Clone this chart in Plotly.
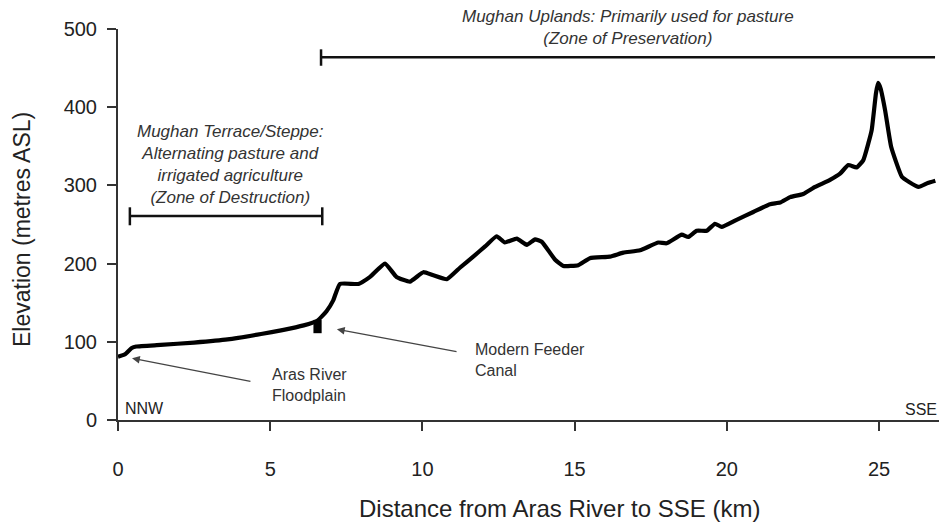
import plotly.graph_objects as go

# Elevation profile (distance km, elevation m ASL)
distance_km = [0, 0.23, 0.45, 0.6, 1.4, 2.5, 3.6, 4.7, 5.4, 6.1, 6.55, 6.85, 7.07, 7.29, 7.9,
               8.28, 8.77, 9.15, 9.59, 10.03, 10.36, 10.8, 11.24, 11.67, 12.06, 12.44, 12.71,
               13.1, 13.43, 13.7, 13.92, 14.36, 14.63, 15.12, 15.5, 16.16, 16.6, 17.15, 17.75,
               18.02, 18.52, 18.73, 19.01, 19.34, 19.61, 19.83, 20.32, 20.87, 21.42, 21.75,
               22.08, 22.51, 22.9, 23.39, 23.72, 23.99, 24.26, 24.48, 24.65, 24.76, 24.9,
               24.97, 25.05, 25.2, 25.4, 25.75, 26.0, 26.3, 26.6, 26.85]
elevation_m = [81, 84, 92, 94, 96, 99, 103, 110, 115, 121, 127, 139, 153, 174, 174,
               183, 200, 183, 177, 189, 185, 180, 195, 209, 222, 235, 227,
               232, 224, 231, 228, 205, 197, 198, 207, 209, 214, 217, 227,
               226, 237, 234, 242, 242, 251, 247, 256, 266, 276, 278,
               285, 289, 298, 307, 315, 326, 323, 332, 354, 371, 418,
               431, 424, 396, 349, 311, 304, 298, 303, 306]

x_ticks = [0, 5, 10, 15, 20, 25]
y_ticks = [0, 100, 200, 300, 400, 500]

# Zone brackets: (start km, end km, elevation level)
uplands_zone = (6.67, 26.84, 464)
terrace_zone = (0.39, 6.71, 261)
# Modern feeder canal cut (km range, elevation range)
canal_km = (6.42, 6.69)
canal_m = (111, 128)

FONT = "Liberation Sans, Arial, sans-serif"
INK = "#222222"

fig = go.Figure()
fig.add_trace(go.Scatter(x=distance_km, y=elevation_m, mode="lines",
                         line=dict(color="black", width=4.2, shape="spline", smoothing=0.4),
                         hoverinfo="skip", showlegend=False))

shapes = []
bw = 2.5
# Uplands bracket (left tick only)
u0, u1, uy = uplands_zone
shapes.append(dict(type="line", xref="x", yref="y", x0=u0, x1=u1, y0=uy, y1=uy,
                   line=dict(color="#111", width=bw)))
shapes.append(dict(type="line", xref="x", yref="y", x0=u0, x1=u0, y0=uy - 11, y1=uy + 10,
                   line=dict(color="#111", width=bw)))
# Terrace bracket
t0, t1, ty = terrace_zone
shapes.append(dict(type="line", xref="x", yref="y", x0=t0, x1=t1, y0=ty, y1=ty,
                   line=dict(color="#111", width=bw)))
for xv in (t0, t1):
    shapes.append(dict(type="line", xref="x", yref="y", x0=xv, x1=xv, y0=ty - 12, y1=ty + 11,
                       line=dict(color="#111", width=bw)))
# Canal block
shapes.append(dict(type="rect", xref="x", yref="y", x0=canal_km[0], x1=canal_km[1],
                   y0=canal_m[0], y1=canal_m[1], fillcolor="black", line=dict(width=0)))

annotations = [
    dict(x=16.75, y=1.005, xref="x", yref="paper", showarrow=False,
         text="<i>Mughan Uplands: Primarily used for pasture<br>(Zone of Preservation)</i>",
         font=dict(family=FONT, size=17, color="#333333"), align="center",
         xanchor="center", yanchor="middle"),
    dict(x=3.68, y=327, xref="x", yref="y", showarrow=False,
         text="<i>Mughan Terrace/Steppe:<br>Alternating pasture and<br>irrigated agriculture<br>(Zone of Destruction)</i>",
         font=dict(family=FONT, size=17, color="#333333"), align="center",
         xanchor="center", yanchor="middle"),
    dict(x=4.99, y=45, xref="x", yref="y", showarrow=False,
         text="Aras River<br>Floodplain", font=dict(family=FONT, size=16, color="#333333"),
         align="left", xanchor="left", yanchor="middle"),
    dict(x=11.66, y=77, xref="x", yref="y", showarrow=False,
         text="Modern Feeder<br>Canal", font=dict(family=FONT, size=16, color="#333333"),
         align="left", xanchor="left", yanchor="middle"),
    dict(x=0.16, y=15, xref="x", yref="y", showarrow=False, text="NNW",
         font=dict(family=FONT, size=16, color=INK), xanchor="left", yanchor="middle"),
    dict(x=1.0, y=13, xref="paper", yref="y", showarrow=False, text="SSE",
         font=dict(family=FONT, size=16, color=INK), xanchor="right", yanchor="middle"),
    # arrows
    dict(x=0.46, y=79, ax=4.40, ay=49, xref="x", yref="y", axref="x", ayref="y",
         text="", showarrow=True, arrowhead=2, arrowsize=1.3, arrowwidth=1.2,
         arrowcolor="#444444"),
    dict(x=7.19, y=116, ax=11.17, ay=87, xref="x", yref="y", axref="x", ayref="y",
         text="", showarrow=True, arrowhead=2, arrowsize=1.3, arrowwidth=1.2,
         arrowcolor="#444444"),
    # axis titles (paper coords relative to the plot area)
    dict(x=-0.1169, y=0.486, xref="paper", yref="paper", showarrow=False,
         text="Elevation (metres ASL)", textangle=-90,
         font=dict(family=FONT, size=23, color=INK), xanchor="center", yanchor="middle"),
    dict(x=0.538, y=-0.2276, xref="paper", yref="paper", showarrow=False,
         text="Distance from Aras River to SSE (km)",
         font=dict(family=FONT, size=24, color=INK), xanchor="center", yanchor="middle"),
]

# the page body adds an 8px offset, so the figure is made smaller and margins shifted
fig.update_layout(
    width=931, height=517,
    margin=dict(l=110, r=0, t=21, b=105, pad=0),
    paper_bgcolor="white", plot_bgcolor="white",
    shapes=shapes, annotations=annotations,
    showlegend=False,
    xaxis=dict(range=[0, 26.97], tickvals=x_ticks, ticktext=[str(v) for v in x_ticks],
               showgrid=False, zeroline=False, showline=True, linecolor="#333333",
               linewidth=2, ticks="outside", ticklen=9, tickwidth=1.5, tickcolor="#333333",
               tickfont=dict(family=FONT, size=20, color=INK), ticklabelstandoff=21),
    yaxis=dict(range=[0, 500], tickvals=y_ticks, ticktext=[str(v) for v in y_ticks],
               showgrid=False, zeroline=False, showline=True, linecolor="#333333",
               linewidth=2, ticks="outside", ticklen=9, tickwidth=1.5, tickcolor="#333333",
               tickfont=dict(family=FONT, size=20, color=INK), ticklabelstandoff=6),
)

fig.write_html("out.html")
